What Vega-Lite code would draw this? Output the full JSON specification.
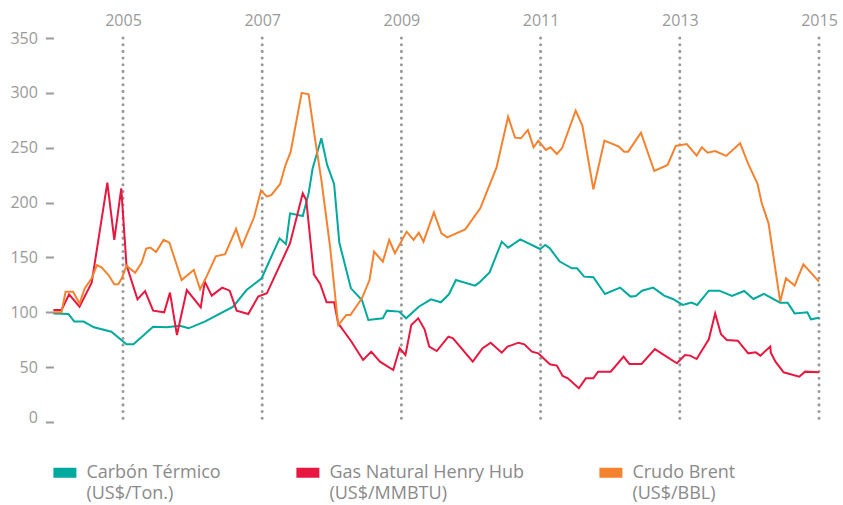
{
  "$schema": "https://vega.github.io/schema/vega-lite/v6.json",
  "width": 765.6,
  "height": 384,
  "autosize": {"type": "none"},
  "padding": {"left": 53.4, "top": 38, "right": 24, "bottom": 83},
  "background": "white",
  "config": {"view": {"stroke": null}, "font": "Open Sans", "style": {"guide-label": {"lineHeight": 21}}},
  "datasets": {
    "anios": [{"anio": 2005}, {"anio": 2007}, {"anio": 2009}, {"anio": 2011}, {"anio": 2013}, {"anio": 2015}],
    "precios": [
      {"serie": "Carbón Térmico (US$/Ton.)", "anio": 2004.0, "valor": 99},
      {"serie": "Carbón Térmico (US$/Ton.)", "anio": 2004.217, "valor": 98.4},
      {"serie": "Carbón Térmico (US$/Ton.)", "anio": 2004.3, "valor": 91.5},
      {"serie": "Carbón Térmico (US$/Ton.)", "anio": 2004.433, "valor": 91.5},
      {"serie": "Carbón Térmico (US$/Ton.)", "anio": 2004.583, "valor": 86.3},
      {"serie": "Carbón Térmico (US$/Ton.)", "anio": 2004.833, "valor": 82.3},
      {"serie": "Carbón Térmico (US$/Ton.)", "anio": 2005.05, "valor": 70.8},
      {"serie": "Carbón Térmico (US$/Ton.)", "anio": 2005.15, "valor": 70.8},
      {"serie": "Carbón Térmico (US$/Ton.)", "anio": 2005.433, "valor": 86.9},
      {"serie": "Carbón Térmico (US$/Ton.)", "anio": 2005.625, "valor": 86.3},
      {"serie": "Carbón Térmico (US$/Ton.)", "anio": 2005.817, "valor": 87.8},
      {"serie": "Carbón Térmico (US$/Ton.)", "anio": 2005.942, "valor": 85.4},
      {"serie": "Carbón Térmico (US$/Ton.)", "anio": 2006.175, "valor": 91.5},
      {"serie": "Carbón Térmico (US$/Ton.)", "anio": 2006.583, "valor": 105.1},
      {"serie": "Carbón Térmico (US$/Ton.)", "anio": 2006.775, "valor": 120.3},
      {"serie": "Carbón Térmico (US$/Ton.)", "anio": 2006.992, "valor": 131},
      {"serie": "Carbón Térmico (US$/Ton.)", "anio": 2007.25, "valor": 167.4},
      {"serie": "Carbón Térmico (US$/Ton.)", "anio": 2007.342, "valor": 162},
      {"serie": "Carbón Térmico (US$/Ton.)", "anio": 2007.4, "valor": 190.2},
      {"serie": "Carbón Térmico (US$/Ton.)", "anio": 2007.583, "valor": 187.8},
      {"serie": "Carbón Térmico (US$/Ton.)", "anio": 2007.667, "valor": 208.4},
      {"serie": "Carbón Térmico (US$/Ton.)", "anio": 2007.725, "valor": 231.2},
      {"serie": "Carbón Térmico (US$/Ton.)", "anio": 2007.85, "valor": 258.6},
      {"serie": "Carbón Térmico (US$/Ton.)", "anio": 2007.933, "valor": 234.3},
      {"serie": "Carbón Térmico (US$/Ton.)", "anio": 2008.033, "valor": 217},
      {"serie": "Carbón Térmico (US$/Ton.)", "anio": 2008.108, "valor": 163.5},
      {"serie": "Carbón Térmico (US$/Ton.)", "anio": 2008.275, "valor": 121.8},
      {"serie": "Carbón Térmico (US$/Ton.)", "anio": 2008.433, "valor": 111.2},
      {"serie": "Carbón Térmico (US$/Ton.)", "anio": 2008.525, "valor": 93},
      {"serie": "Carbón Térmico (US$/Ton.)", "anio": 2008.733, "valor": 94.5},
      {"serie": "Carbón Térmico (US$/Ton.)", "anio": 2008.792, "valor": 101.5},
      {"serie": "Carbón Térmico (US$/Ton.)", "anio": 2008.967, "valor": 100.6},
      {"serie": "Carbón Térmico (US$/Ton.)", "anio": 2009.067, "valor": 94.5},
      {"serie": "Carbón Térmico (US$/Ton.)", "anio": 2009.25, "valor": 105.1},
      {"serie": "Carbón Térmico (US$/Ton.)", "anio": 2009.425, "valor": 111.8},
      {"serie": "Carbón Térmico (US$/Ton.)", "anio": 2009.567, "valor": 109.1},
      {"serie": "Carbón Térmico (US$/Ton.)", "anio": 2009.683, "valor": 116.4},
      {"serie": "Carbón Térmico (US$/Ton.)", "anio": 2009.783, "valor": 129.4},
      {"serie": "Carbón Térmico (US$/Ton.)", "anio": 2010.058, "valor": 124.3},
      {"serie": "Carbón Térmico (US$/Ton.)", "anio": 2010.117, "valor": 127},
      {"serie": "Carbón Térmico (US$/Ton.)", "anio": 2010.267, "valor": 136.4},
      {"serie": "Carbón Térmico (US$/Ton.)", "anio": 2010.442, "valor": 164.4},
      {"serie": "Carbón Térmico (US$/Ton.)", "anio": 2010.533, "valor": 158.9},
      {"serie": "Carbón Térmico (US$/Ton.)", "anio": 2010.708, "valor": 166.5},
      {"serie": "Carbón Térmico (US$/Ton.)", "anio": 2010.992, "valor": 157.7},
      {"serie": "Carbón Térmico (US$/Ton.)", "anio": 2011.067, "valor": 161.3},
      {"serie": "Carbón Térmico (US$/Ton.)", "anio": 2011.133, "valor": 158.3},
      {"serie": "Carbón Térmico (US$/Ton.)", "anio": 2011.275, "valor": 146.2},
      {"serie": "Carbón Térmico (US$/Ton.)", "anio": 2011.45, "valor": 140.1},
      {"serie": "Carbón Térmico (US$/Ton.)", "anio": 2011.525, "valor": 140.1},
      {"serie": "Carbón Térmico (US$/Ton.)", "anio": 2011.625, "valor": 132.5},
      {"serie": "Carbón Térmico (US$/Ton.)", "anio": 2011.758, "valor": 131.9},
      {"serie": "Carbón Térmico (US$/Ton.)", "anio": 2011.925, "valor": 116.7},
      {"serie": "Carbón Térmico (US$/Ton.)", "anio": 2012.142, "valor": 122.5},
      {"serie": "Carbón Térmico (US$/Ton.)", "anio": 2012.292, "valor": 114.3},
      {"serie": "Carbón Térmico (US$/Ton.)", "anio": 2012.367, "valor": 114.9},
      {"serie": "Carbón Térmico (US$/Ton.)", "anio": 2012.458, "valor": 119.7},
      {"serie": "Carbón Térmico (US$/Ton.)", "anio": 2012.617, "valor": 122.5},
      {"serie": "Carbón Térmico (US$/Ton.)", "anio": 2012.775, "valor": 115.2},
      {"serie": "Carbón Térmico (US$/Ton.)", "anio": 2012.9, "valor": 112.1},
      {"serie": "Carbón Térmico (US$/Ton.)", "anio": 2013.042, "valor": 106.7},
      {"serie": "Carbón Térmico (US$/Ton.)", "anio": 2013.167, "valor": 108.8},
      {"serie": "Carbón Térmico (US$/Ton.)", "anio": 2013.25, "valor": 106.7},
      {"serie": "Carbón Térmico (US$/Ton.)", "anio": 2013.417, "valor": 119.7},
      {"serie": "Carbón Térmico (US$/Ton.)", "anio": 2013.567, "valor": 119.7},
      {"serie": "Carbón Térmico (US$/Ton.)", "anio": 2013.75, "valor": 114.9},
      {"serie": "Carbón Térmico (US$/Ton.)", "anio": 2013.925, "valor": 119.4},
      {"serie": "Carbón Térmico (US$/Ton.)", "anio": 2014.058, "valor": 112.1},
      {"serie": "Carbón Térmico (US$/Ton.)", "anio": 2014.208, "valor": 116.7},
      {"serie": "Carbón Térmico (US$/Ton.)", "anio": 2014.442, "valor": 108.8},
      {"serie": "Carbón Térmico (US$/Ton.)", "anio": 2014.55, "valor": 108.8},
      {"serie": "Carbón Térmico (US$/Ton.)", "anio": 2014.65, "valor": 99},
      {"serie": "Carbón Térmico (US$/Ton.)", "anio": 2014.833, "valor": 100},
      {"serie": "Carbón Térmico (US$/Ton.)", "anio": 2014.883, "valor": 93.6},
      {"serie": "Carbón Térmico (US$/Ton.)", "anio": 2015.0, "valor": 95.1},

      {"serie": "Gas Natural Henry Hub (US$/MMBTU)", "anio": 2004.0, "valor": 102},
      {"serie": "Gas Natural Henry Hub (US$/MMBTU)", "anio": 2004.117, "valor": 102},
      {"serie": "Gas Natural Henry Hub (US$/MMBTU)", "anio": 2004.225, "valor": 116.4},
      {"serie": "Gas Natural Henry Hub (US$/MMBTU)", "anio": 2004.375, "valor": 105.1},
      {"serie": "Gas Natural Henry Hub (US$/MMBTU)", "anio": 2004.55, "valor": 127},
      {"serie": "Gas Natural Henry Hub (US$/MMBTU)", "anio": 2004.775, "valor": 218.2},
      {"serie": "Gas Natural Henry Hub (US$/MMBTU)", "anio": 2004.875, "valor": 165.9},
      {"serie": "Gas Natural Henry Hub (US$/MMBTU)", "anio": 2004.975, "valor": 213},
      {"serie": "Gas Natural Henry Hub (US$/MMBTU)", "anio": 2005.05, "valor": 143.1},
      {"serie": "Gas Natural Henry Hub (US$/MMBTU)", "anio": 2005.208, "valor": 111.8},
      {"serie": "Gas Natural Henry Hub (US$/MMBTU)", "anio": 2005.317, "valor": 119.4},
      {"serie": "Gas Natural Henry Hub (US$/MMBTU)", "anio": 2005.433, "valor": 101.5},
      {"serie": "Gas Natural Henry Hub (US$/MMBTU)", "anio": 2005.592, "valor": 100},
      {"serie": "Gas Natural Henry Hub (US$/MMBTU)", "anio": 2005.675, "valor": 117.9},
      {"serie": "Gas Natural Henry Hub (US$/MMBTU)", "anio": 2005.775, "valor": 79.3},
      {"serie": "Gas Natural Henry Hub (US$/MMBTU)", "anio": 2005.917, "valor": 120.3},
      {"serie": "Gas Natural Henry Hub (US$/MMBTU)", "anio": 2006.117, "valor": 104.5},
      {"serie": "Gas Natural Henry Hub (US$/MMBTU)", "anio": 2006.175, "valor": 127.9},
      {"serie": "Gas Natural Henry Hub (US$/MMBTU)", "anio": 2006.275, "valor": 115.2},
      {"serie": "Gas Natural Henry Hub (US$/MMBTU)", "anio": 2006.425, "valor": 122.5},
      {"serie": "Gas Natural Henry Hub (US$/MMBTU)", "anio": 2006.533, "valor": 119.7},
      {"serie": "Gas Natural Henry Hub (US$/MMBTU)", "anio": 2006.633, "valor": 101.5},
      {"serie": "Gas Natural Henry Hub (US$/MMBTU)", "anio": 2006.8, "valor": 98.4},
      {"serie": "Gas Natural Henry Hub (US$/MMBTU)", "anio": 2006.942, "valor": 114.3},
      {"serie": "Gas Natural Henry Hub (US$/MMBTU)", "anio": 2007.067, "valor": 117.3},
      {"serie": "Gas Natural Henry Hub (US$/MMBTU)", "anio": 2007.4, "valor": 162.9},
      {"serie": "Gas Natural Henry Hub (US$/MMBTU)", "anio": 2007.583, "valor": 208.4},
      {"serie": "Gas Natural Henry Hub (US$/MMBTU)", "anio": 2007.633, "valor": 202.4},
      {"serie": "Gas Natural Henry Hub (US$/MMBTU)", "anio": 2007.742, "valor": 134.6},
      {"serie": "Gas Natural Henry Hub (US$/MMBTU)", "anio": 2007.833, "valor": 125.8},
      {"serie": "Gas Natural Henry Hub (US$/MMBTU)", "anio": 2007.925, "valor": 109.1},
      {"serie": "Gas Natural Henry Hub (US$/MMBTU)", "anio": 2008.033, "valor": 109.1},
      {"serie": "Gas Natural Henry Hub (US$/MMBTU)", "anio": 2008.092, "valor": 89.9},
      {"serie": "Gas Natural Henry Hub (US$/MMBTU)", "anio": 2008.283, "valor": 73.2},
      {"serie": "Gas Natural Henry Hub (US$/MMBTU)", "anio": 2008.45, "valor": 56.5},
      {"serie": "Gas Natural Henry Hub (US$/MMBTU)", "anio": 2008.567, "valor": 64.1},
      {"serie": "Gas Natural Henry Hub (US$/MMBTU)", "anio": 2008.692, "valor": 55},
      {"serie": "Gas Natural Henry Hub (US$/MMBTU)", "anio": 2008.883, "valor": 47.4},
      {"serie": "Gas Natural Henry Hub (US$/MMBTU)", "anio": 2008.975, "valor": 67.2},
      {"serie": "Gas Natural Henry Hub (US$/MMBTU)", "anio": 2009.058, "valor": 61.1},
      {"serie": "Gas Natural Henry Hub (US$/MMBTU)", "anio": 2009.142, "valor": 88.4},
      {"serie": "Gas Natural Henry Hub (US$/MMBTU)", "anio": 2009.242, "valor": 94.5},
      {"serie": "Gas Natural Henry Hub (US$/MMBTU)", "anio": 2009.333, "valor": 84.5},
      {"serie": "Gas Natural Henry Hub (US$/MMBTU)", "anio": 2009.4, "valor": 68.7},
      {"serie": "Gas Natural Henry Hub (US$/MMBTU)", "anio": 2009.508, "valor": 64.7},
      {"serie": "Gas Natural Henry Hub (US$/MMBTU)", "anio": 2009.675, "valor": 77.8},
      {"serie": "Gas Natural Henry Hub (US$/MMBTU)", "anio": 2009.742, "valor": 76.3},
      {"serie": "Gas Natural Henry Hub (US$/MMBTU)", "anio": 2010.025, "valor": 55},
      {"serie": "Gas Natural Henry Hub (US$/MMBTU)", "anio": 2010.167, "valor": 67.2},
      {"serie": "Gas Natural Henry Hub (US$/MMBTU)", "anio": 2010.283, "valor": 72.3},
      {"serie": "Gas Natural Henry Hub (US$/MMBTU)", "anio": 2010.442, "valor": 63.2},
      {"serie": "Gas Natural Henry Hub (US$/MMBTU)", "anio": 2010.525, "valor": 68.7},
      {"serie": "Gas Natural Henry Hub (US$/MMBTU)", "anio": 2010.683, "valor": 72.3},
      {"serie": "Gas Natural Henry Hub (US$/MMBTU)", "anio": 2010.767, "valor": 70.8},
      {"serie": "Gas Natural Henry Hub (US$/MMBTU)", "anio": 2010.875, "valor": 64.1},
      {"serie": "Gas Natural Henry Hub (US$/MMBTU)", "anio": 2010.967, "valor": 62.6},
      {"serie": "Gas Natural Henry Hub (US$/MMBTU)", "anio": 2011.133, "valor": 52.6},
      {"serie": "Gas Natural Henry Hub (US$/MMBTU)", "anio": 2011.233, "valor": 51.4},
      {"serie": "Gas Natural Henry Hub (US$/MMBTU)", "anio": 2011.317, "valor": 41.9},
      {"serie": "Gas Natural Henry Hub (US$/MMBTU)", "anio": 2011.392, "valor": 39.8},
      {"serie": "Gas Natural Henry Hub (US$/MMBTU)", "anio": 2011.55, "valor": 30.7},
      {"serie": "Gas Natural Henry Hub (US$/MMBTU)", "anio": 2011.65, "valor": 39.8},
      {"serie": "Gas Natural Henry Hub (US$/MMBTU)", "anio": 2011.758, "valor": 39.8},
      {"serie": "Gas Natural Henry Hub (US$/MMBTU)", "anio": 2011.825, "valor": 45.9},
      {"serie": "Gas Natural Henry Hub (US$/MMBTU)", "anio": 2012.008, "valor": 45.9},
      {"serie": "Gas Natural Henry Hub (US$/MMBTU)", "anio": 2012.192, "valor": 59.6},
      {"serie": "Gas Natural Henry Hub (US$/MMBTU)", "anio": 2012.275, "valor": 52.9},
      {"serie": "Gas Natural Henry Hub (US$/MMBTU)", "anio": 2012.45, "valor": 52.9},
      {"serie": "Gas Natural Henry Hub (US$/MMBTU)", "anio": 2012.642, "valor": 66.5},
      {"serie": "Gas Natural Henry Hub (US$/MMBTU)", "anio": 2012.958, "valor": 53.5},
      {"serie": "Gas Natural Henry Hub (US$/MMBTU)", "anio": 2013.075, "valor": 61.1},
      {"serie": "Gas Natural Henry Hub (US$/MMBTU)", "anio": 2013.15, "valor": 60.5},
      {"serie": "Gas Natural Henry Hub (US$/MMBTU)", "anio": 2013.242, "valor": 57.4},
      {"serie": "Gas Natural Henry Hub (US$/MMBTU)", "anio": 2013.417, "valor": 75.4},
      {"serie": "Gas Natural Henry Hub (US$/MMBTU)", "anio": 2013.508, "valor": 99},
      {"serie": "Gas Natural Henry Hub (US$/MMBTU)", "anio": 2013.592, "valor": 79.9},
      {"serie": "Gas Natural Henry Hub (US$/MMBTU)", "anio": 2013.675, "valor": 74.8},
      {"serie": "Gas Natural Henry Hub (US$/MMBTU)", "anio": 2013.833, "valor": 74.1},
      {"serie": "Gas Natural Henry Hub (US$/MMBTU)", "anio": 2013.983, "valor": 62.6},
      {"serie": "Gas Natural Henry Hub (US$/MMBTU)", "anio": 2014.092, "valor": 63.5},
      {"serie": "Gas Natural Henry Hub (US$/MMBTU)", "anio": 2014.158, "valor": 60.5},
      {"serie": "Gas Natural Henry Hub (US$/MMBTU)", "anio": 2014.3, "valor": 68.7},
      {"serie": "Gas Natural Henry Hub (US$/MMBTU)", "anio": 2014.308, "valor": 63.2},
      {"serie": "Gas Natural Henry Hub (US$/MMBTU)", "anio": 2014.375, "valor": 55},
      {"serie": "Gas Natural Henry Hub (US$/MMBTU)", "anio": 2014.492, "valor": 45.3},
      {"serie": "Gas Natural Henry Hub (US$/MMBTU)", "anio": 2014.717, "valor": 41.3},
      {"serie": "Gas Natural Henry Hub (US$/MMBTU)", "anio": 2014.8, "valor": 45.9},
      {"serie": "Gas Natural Henry Hub (US$/MMBTU)", "anio": 2015.0, "valor": 45.3},

      {"serie": "Crudo Brent (US$/BBL)", "anio": 2004.0, "valor": 100},
      {"serie": "Crudo Brent (US$/BBL)", "anio": 2004.117, "valor": 100},
      {"serie": "Crudo Brent (US$/BBL)", "anio": 2004.175, "valor": 118.8},
      {"serie": "Crudo Brent (US$/BBL)", "anio": 2004.283, "valor": 118.8},
      {"serie": "Crudo Brent (US$/BBL)", "anio": 2004.375, "valor": 108},
      {"serie": "Crudo Brent (US$/BBL)", "anio": 2004.45, "valor": 121.8},
      {"serie": "Crudo Brent (US$/BBL)", "anio": 2004.55, "valor": 131},
      {"serie": "Crudo Brent (US$/BBL)", "anio": 2004.625, "valor": 143},
      {"serie": "Crudo Brent (US$/BBL)", "anio": 2004.692, "valor": 141},
      {"serie": "Crudo Brent (US$/BBL)", "anio": 2004.792, "valor": 134},
      {"serie": "Crudo Brent (US$/BBL)", "anio": 2004.875, "valor": 125.5},
      {"serie": "Crudo Brent (US$/BBL)", "anio": 2004.933, "valor": 125.5},
      {"serie": "Crudo Brent (US$/BBL)", "anio": 2004.983, "valor": 131},
      {"serie": "Crudo Brent (US$/BBL)", "anio": 2005.05, "valor": 142.5},
      {"serie": "Crudo Brent (US$/BBL)", "anio": 2005.175, "valor": 136},
      {"serie": "Crudo Brent (US$/BBL)", "anio": 2005.267, "valor": 145},
      {"serie": "Crudo Brent (US$/BBL)", "anio": 2005.333, "valor": 158},
      {"serie": "Crudo Brent (US$/BBL)", "anio": 2005.392, "valor": 159},
      {"serie": "Crudo Brent (US$/BBL)", "anio": 2005.475, "valor": 155},
      {"serie": "Crudo Brent (US$/BBL)", "anio": 2005.583, "valor": 166},
      {"serie": "Crudo Brent (US$/BBL)", "anio": 2005.667, "valor": 163.5},
      {"serie": "Crudo Brent (US$/BBL)", "anio": 2005.842, "valor": 129.4},
      {"serie": "Crudo Brent (US$/BBL)", "anio": 2006.017, "valor": 138.6},
      {"serie": "Crudo Brent (US$/BBL)", "anio": 2006.108, "valor": 121},
      {"serie": "Crudo Brent (US$/BBL)", "anio": 2006.2, "valor": 132.5},
      {"serie": "Crudo Brent (US$/BBL)", "anio": 2006.333, "valor": 151},
      {"serie": "Crudo Brent (US$/BBL)", "anio": 2006.467, "valor": 153},
      {"serie": "Crudo Brent (US$/BBL)", "anio": 2006.625, "valor": 176},
      {"serie": "Crudo Brent (US$/BBL)", "anio": 2006.708, "valor": 160},
      {"serie": "Crudo Brent (US$/BBL)", "anio": 2006.883, "valor": 186.6},
      {"serie": "Crudo Brent (US$/BBL)", "anio": 2006.983, "valor": 211},
      {"serie": "Crudo Brent (US$/BBL)", "anio": 2007.067, "valor": 205.4},
      {"serie": "Crudo Brent (US$/BBL)", "anio": 2007.133, "valor": 207},
      {"serie": "Crudo Brent (US$/BBL)", "anio": 2007.258, "valor": 217},
      {"serie": "Crudo Brent (US$/BBL)", "anio": 2007.333, "valor": 234},
      {"serie": "Crudo Brent (US$/BBL)", "anio": 2007.408, "valor": 246},
      {"serie": "Crudo Brent (US$/BBL)", "anio": 2007.567, "valor": 300},
      {"serie": "Crudo Brent (US$/BBL)", "anio": 2007.667, "valor": 298.7},
      {"serie": "Crudo Brent (US$/BBL)", "anio": 2007.758, "valor": 258.6},
      {"serie": "Crudo Brent (US$/BBL)", "anio": 2007.85, "valor": 220.6},
      {"serie": "Crudo Brent (US$/BBL)", "anio": 2007.975, "valor": 159.8},
      {"serie": "Crudo Brent (US$/BBL)", "anio": 2008.092, "valor": 88.4},
      {"serie": "Crudo Brent (US$/BBL)", "anio": 2008.208, "valor": 97.5},
      {"serie": "Crudo Brent (US$/BBL)", "anio": 2008.267, "valor": 97.5},
      {"serie": "Crudo Brent (US$/BBL)", "anio": 2008.433, "valor": 112.7},
      {"serie": "Crudo Brent (US$/BBL)", "anio": 2008.542, "valor": 129.4},
      {"serie": "Crudo Brent (US$/BBL)", "anio": 2008.608, "valor": 155.3},
      {"serie": "Crudo Brent (US$/BBL)", "anio": 2008.733, "valor": 146.2},
      {"serie": "Crudo Brent (US$/BBL)", "anio": 2008.825, "valor": 165.9},
      {"serie": "Crudo Brent (US$/BBL)", "anio": 2008.908, "valor": 153.8},
      {"serie": "Crudo Brent (US$/BBL)", "anio": 2009.075, "valor": 173.5},
      {"serie": "Crudo Brent (US$/BBL)", "anio": 2009.175, "valor": 166},
      {"serie": "Crudo Brent (US$/BBL)", "anio": 2009.25, "valor": 172.6},
      {"serie": "Crudo Brent (US$/BBL)", "anio": 2009.317, "valor": 164.4},
      {"serie": "Crudo Brent (US$/BBL)", "anio": 2009.467, "valor": 191},
      {"serie": "Crudo Brent (US$/BBL)", "anio": 2009.575, "valor": 172},
      {"serie": "Crudo Brent (US$/BBL)", "anio": 2009.658, "valor": 168.3},
      {"serie": "Crudo Brent (US$/BBL)", "anio": 2009.917, "valor": 175.6},
      {"serie": "Crudo Brent (US$/BBL)", "anio": 2010.133, "valor": 194.8},
      {"serie": "Crudo Brent (US$/BBL)", "anio": 2010.367, "valor": 232},
      {"serie": "Crudo Brent (US$/BBL)", "anio": 2010.533, "valor": 278.3},
      {"serie": "Crudo Brent (US$/BBL)", "anio": 2010.633, "valor": 259.2},
      {"serie": "Crudo Brent (US$/BBL)", "anio": 2010.717, "valor": 258.6},
      {"serie": "Crudo Brent (US$/BBL)", "anio": 2010.817, "valor": 266.2},
      {"serie": "Crudo Brent (US$/BBL)", "anio": 2010.9, "valor": 250.4},
      {"serie": "Crudo Brent (US$/BBL)", "anio": 2010.967, "valor": 256.5},
      {"serie": "Crudo Brent (US$/BBL)", "anio": 2011.075, "valor": 248},
      {"serie": "Crudo Brent (US$/BBL)", "anio": 2011.142, "valor": 250.4},
      {"serie": "Crudo Brent (US$/BBL)", "anio": 2011.233, "valor": 244.3},
      {"serie": "Crudo Brent (US$/BBL)", "anio": 2011.308, "valor": 249.5},
      {"serie": "Crudo Brent (US$/BBL)", "anio": 2011.504, "valor": 283.8},
      {"serie": "Crudo Brent (US$/BBL)", "anio": 2011.6, "valor": 270.1},
      {"serie": "Crudo Brent (US$/BBL)", "anio": 2011.758, "valor": 212},
      {"serie": "Crudo Brent (US$/BBL)", "anio": 2011.917, "valor": 256.5},
      {"serie": "Crudo Brent (US$/BBL)", "anio": 2012.125, "valor": 251},
      {"serie": "Crudo Brent (US$/BBL)", "anio": 2012.2, "valor": 246.4},
      {"serie": "Crudo Brent (US$/BBL)", "anio": 2012.258, "valor": 246.4},
      {"serie": "Crudo Brent (US$/BBL)", "anio": 2012.442, "valor": 263.7},
      {"serie": "Crudo Brent (US$/BBL)", "anio": 2012.633, "valor": 228.8},
      {"serie": "Crudo Brent (US$/BBL)", "anio": 2012.825, "valor": 234.3},
      {"serie": "Crudo Brent (US$/BBL)", "anio": 2012.942, "valor": 251.6},
      {"serie": "Crudo Brent (US$/BBL)", "anio": 2013.1, "valor": 253.4},
      {"serie": "Crudo Brent (US$/BBL)", "anio": 2013.242, "valor": 242.8},
      {"serie": "Crudo Brent (US$/BBL)", "anio": 2013.317, "valor": 250.4},
      {"serie": "Crudo Brent (US$/BBL)", "anio": 2013.4, "valor": 245.5},
      {"serie": "Crudo Brent (US$/BBL)", "anio": 2013.508, "valor": 247},
      {"serie": "Crudo Brent (US$/BBL)", "anio": 2013.667, "valor": 242.5},
      {"serie": "Crudo Brent (US$/BBL)", "anio": 2013.867, "valor": 254},
      {"serie": "Crudo Brent (US$/BBL)", "anio": 2013.983, "valor": 235.2},
      {"serie": "Crudo Brent (US$/BBL)", "anio": 2014.117, "valor": 217},
      {"serie": "Crudo Brent (US$/BBL)", "anio": 2014.175, "valor": 200},
      {"serie": "Crudo Brent (US$/BBL)", "anio": 2014.275, "valor": 181.1},
      {"serie": "Crudo Brent (US$/BBL)", "anio": 2014.442, "valor": 109.7},
      {"serie": "Crudo Brent (US$/BBL)", "anio": 2014.525, "valor": 131},
      {"serie": "Crudo Brent (US$/BBL)", "anio": 2014.65, "valor": 124.3},
      {"serie": "Crudo Brent (US$/BBL)", "anio": 2014.775, "valor": 143.7},
      {"serie": "Crudo Brent (US$/BBL)", "anio": 2015.0, "valor": 127.9}
    ]
  },
  "encoding": {
    "x": {
      "field": "anio",
      "type": "quantitative",
      "scale": {"domain": [2004, 2015], "nice": false, "zero": false},
      "axis": {
        "orient": "top",
        "values": [2005, 2007, 2009, 2011, 2013, 2015],
        "format": "d",
        "domain": false,
        "ticks": false,
        "grid": false,
        "labelFlush": false,
        "labelOverlap": false,
        "labelPadding": 10,
        "labelFontSize": 16,
        "labelColor": "#9a9a9a",
        "labelFont": "Open Sans",
        "title": null
      }
    }
  },
  "layer": [
    {
      "data": {"name": "anios"},
      "mark": {"type": "rule", "color": "#999999", "strokeWidth": 3, "strokeDash": [0.1, 6.57], "strokeCap": "round"}
    },
    {
      "data": {"name": "precios"},
      "mark": {"type": "line", "strokeWidth": 2},
      "encoding": {
        "y": {
          "field": "valor",
          "type": "quantitative",
          "scale": {"domain": [0, 350], "nice": false},
          "axis": {
            "values": [0, 50, 100, 150, 200, 250, 300, 350],
            "domain": false,
            "grid": false,
            "tickSize": 8,
            "tickWidth": 2,
            "tickColor": "#9a9a9a",
            "labelPadding": 8,
            "labelFontSize": 16,
            "labelColor": "#9a9a9a",
            "labelFont": "Open Sans",
            "labelOffset": {"condition": {"test": "datum.value === 0", "value": -5}, "value": 0},
            "title": null
          }
        },
        "color": {
          "field": "serie",
          "type": "nominal",
          "scale": {
            "domain": ["Carbón Térmico (US$/Ton.)", "Gas Natural Henry Hub (US$/MMBTU)", "Crudo Brent (US$/BBL)"],
            "range": ["#00a99d", "#e8173f", "#f5822f"]
          },
          "legend": {
            "orient": "none",
            "legendX": -5,
            "legendY": 418,
            "direction": "horizontal",
            "title": null,
            "padding": 0,
            "symbolType": "stroke",
            "symbolSize": 529,
            "symbolStrokeWidth": 10,
            "labelFontSize": 18,
            "labelColor": "#8a8a8a",
            "labelFont": "Open Sans",
            "labelOffset": 5,
            "labelLimit": 0,
            "columnPadding": 55,
            "labelBaseline": "middle",
            "labelExpr": "[slice(datum.label, 0, indexof(datum.label, ' (')), slice(datum.label, indexof(datum.label, ' (') + 1)]"
          }
        }
      }
    }
  ]
}
